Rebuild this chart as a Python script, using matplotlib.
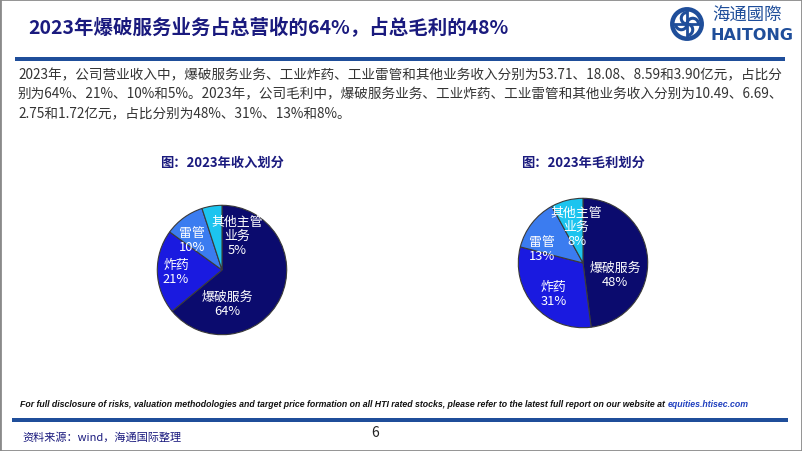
import numpy as np
import matplotlib
matplotlib.use("Agg")
import matplotlib.pyplot as plt
from matplotlib.patches import Circle, Rectangle, Arc

plt.rcParams['font.family'] = ['Noto Sans CJK SC', 'DejaVu Sans']

# %% Data
segments = ['爆破服务', '炸药', '雷管', '其他主管\n业务']
revenue_share = [64, 21, 10, 5]
profit_share = [48, 31, 13, 8]
slice_colors = ['#0b0b6e', '#1a1ae0', '#3b7cf0', '#1cc4ef']

# label offsets (fraction of radius) for each slice
rev_label_pos = [(0.08, -0.52), (-0.71, -0.02), (-0.47, 0.47), (0.23, 0.53)]
gp_label_pos = [(0.50, -0.18), (-0.45, -0.47), (-0.63, 0.22), (-0.10, 0.57)]

header = '2023年爆破服务业务占总营收的64%，占总毛利的48%'
body = ['2023年，公司营业收入中，爆破服务业务、工业炸药、工业雷管和其他业务收入分别为53.71、18.08、8.59和3.90亿元，占比分',
        '别为64%、21%、10%和5%。2023年，公司毛利中，爆破服务业务、工业炸药、工业雷管和其他业务收入分别为10.49、6.69、',
        '2.75和1.72亿元，占比分别为48%、31%、13%和8%。']
disclaimer = ('For full disclosure of risks, valuation methodologies and target price formation on all '
              'HTI rated stocks, please refer to the latest full report on our website at ')

W, H = 802, 452
navy = '#1a1a7e'
blue = '#1f4e9a'

fig = plt.figure(figsize=(W / 100, H / 100), dpi=100)


def fx(x):
    return x / W


def fy(y):
    return 1 - y / H


# %% Frame, header and lines
fig.patches.append(Rectangle((0, 0), 1, 1, transform=fig.transFigure, fill=False,
                             edgecolor='#8a8a8a', lw=2))
fig.text(fx(28), fy(28), header, fontsize=14, fontweight='bold', color=navy, va='center')
fig.patches.append(Rectangle((fx(15), fy(62)), fx(770), 4 / H, transform=fig.transFigure,
                             color=blue, lw=0))

# logo
lax = fig.add_axes([fx(669), fy(43), 36 / W, 36 / H])
lax.set_xlim(-1.1, 1.1)
lax.set_ylim(-1.1, 1.1)
lax.set_aspect('equal')
lax.axis('off')
lax.add_patch(Circle((0, 0), 0.9, fill=False, edgecolor=blue, lw=3.2))
for ang in [0, 90, 180, 270]:
    t = np.deg2rad(ang)
    lax.add_patch(Arc((0.35 * np.cos(t), 0.35 * np.sin(t)), 0.7, 0.7, angle=ang,
                      theta1=0, theta2=200, edgecolor=blue, lw=2.2))
lax.plot([-0.8, 0.8], [0, 0], color=blue, lw=2)
lax.plot([0, 0], [-0.8, 0.8], color=blue, lw=2)
fig.text(fx(712), fy(16), '海通國際', fontsize=12.5, color=blue, va='center')
fig.text(fx(711), fy(36), 'HAITONG', fontsize=11.5, fontweight='bold', color=blue, va='center',
         family='DejaVu Sans')

for i, line in enumerate(body):
    fig.text(fx(18), fy(75 + i * 19.5), line, fontsize=9.8, color='#333333', va='center')


# %% Pies
def draw_pie(cx, cy, r, values, label_pos, title):
    ax = fig.add_axes([fx(cx - r), fy(cy + r), 2 * r / W, 2 * r / H])
    ax.pie(values, colors=slice_colors, startangle=90, counterclock=False, radius=1,
           wedgeprops=dict(edgecolor='#3a3a3a', linewidth=0.8))
    ax.set_xlim(-1.02, 1.02)
    ax.set_ylim(-1.02, 1.02)
    ax.set_aspect('equal')
    ax.axis('off')
    for name, v, (dx, dy) in zip(segments, values, label_pos):
        ax.text(dx, dy, f'{name}\n{v}%', ha='center', va='center', color='white',
                fontsize=9.3, linespacing=1.1)
    fig.text(fx(cx), fy(163), title, fontsize=9.5, fontweight='bold', color=navy,
             ha='center', va='center')


draw_pie(222, 271, 66, revenue_share, rev_label_pos, '图：2023年收入划分')
draw_pie(583, 264, 66, profit_share, gp_label_pos, '图：2023年毛利划分')

# %% Footer
sans = ['Liberation Sans', 'DejaVu Sans']
t1 = fig.text(fx(20), fy(405), disclaimer, fontsize=6.3, style='italic', fontweight='bold',
              color='#111111', va='center', family=sans)
fig.text(0, 0, '')
plt.annotate('equities.htisec.com', xy=(1, 0.5), xycoords=t1, va='center', ha='left',
             fontsize=6.3, style='italic', fontweight='bold', color='#1f3fbf', family=sans)
fig.patches.append(Rectangle((fx(12), fy(423)), fx(776), 4 / H, transform=fig.transFigure,
                             color=blue, lw=0))
fig.text(fx(22), fy(437), '资料来源：wind，海通国际整理', fontsize=8, color=navy, va='center')
fig.text(fx(375), fy(433), '6', fontsize=10, color='#222222', ha='center', va='center')

fig.savefig('out.png', dpi=100)
